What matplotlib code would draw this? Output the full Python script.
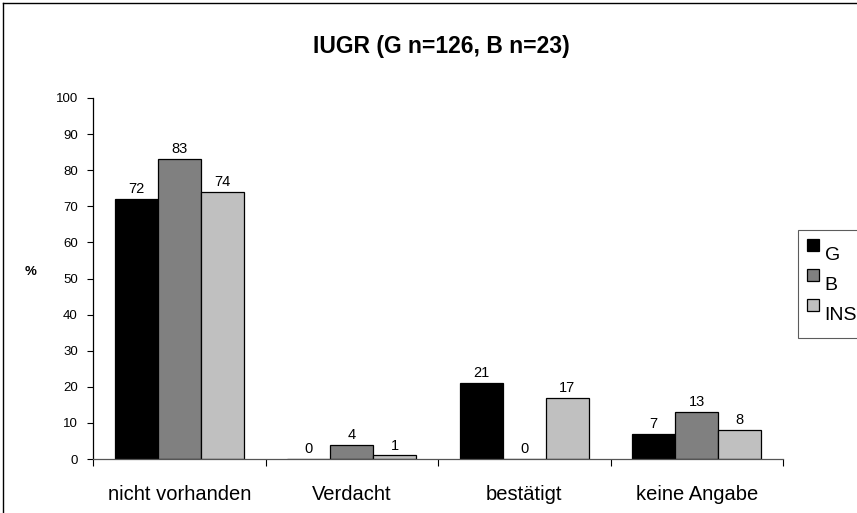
import matplotlib
matplotlib.use("Agg")
import matplotlib.pyplot as plt
from matplotlib.lines import Line2D
from matplotlib.patches import Rectangle
from matplotlib.legend_handler import HandlerPatch, update_from_first_child
from matplotlib.container import BarContainer
import numpy as np

plt.rcParams['font.family'] = ['Liberation Sans', 'DejaVu Sans']

categories = ["nicht vorhanden", "Verdacht", "bestätigt", "keine Angabe"]
series_names = ["G", "B", "INS"]
values_G = [72, 0, 21, 7]
values_B = [83, 4, 0, 13]
values_INS = [74, 1, 17, 8]
colors = ["#000000", "#808080", "#C0C0C0"]
title = "IUGR (G n=126, B n=23)"

fig = plt.figure(figsize=(8.57, 5.13), dpi=100)
ax = fig.add_axes([93/857, 1-459/513, (783-93)/857, (459-98)/513])

x = np.arange(len(categories))
w = 0.25
for i, (vals, name, c) in enumerate(zip([values_G, values_B, values_INS], series_names, colors)):
    pos = x + (i - 1) * w
    ax.bar(pos, vals, width=w, color=c, edgecolor="black", linewidth=0.9, label=name)
    for p, v in zip(pos, vals):
        ax.text(p, v + 0.8, str(v), ha="center", va="bottom", fontsize=10.5)

ax.set_xlim(-0.5, len(categories) - 0.5)
ax.set_ylim(0, 100)
ax.set_yticks(range(0, 101, 10))
ax.tick_params(axis='y', labelsize=9.5, length=4, direction='out', pad=7)
ax.set_xticks(np.arange(-0.5, len(categories), 1))
ax.set_xticklabels([])
ax.set_xticks(x, minor=True)
ax.set_xticklabels(categories, minor=True, fontsize=14.5)
ax.tick_params(axis='x', which='major', length=5, direction='out')
ax.tick_params(axis='x', which='minor', length=0, pad=19)
for s in ["top", "right"]:
    ax.spines[s].set_visible(False)
ax.spines["left"].set_color("#000000")
ax.spines["bottom"].set_color("#555555")
ax.spines["left"].set_linewidth(0.9)
ax.spines["bottom"].set_linewidth(0.9)

fig.text(31/857, 1-272/513, "%", fontsize=9.5, fontweight="bold", ha="center", va="center")
fig.text(441/857, 1-46/513, title, fontsize=16.5, fontweight="bold", ha="center", va="center")


def make_square(legend, orig_handle, xdescent, ydescent, width, height, fontsize):
    return Rectangle((-xdescent, -ydescent + height - width), width, width)


leg = ax.legend(loc="upper left", bbox_to_anchor=(798/857, 1-230/513), bbox_transform=fig.transFigure,
                fontsize=14, frameon=True, fancybox=False, handlelength=0.62, handleheight=2.0,
                handletextpad=0.3, labelspacing=0.0, borderpad=0.45, borderaxespad=0,
                handler_map={BarContainer: HandlerPatch(patch_func=make_square,
                                                        update_func=update_from_first_child)})
leg.get_frame().set_edgecolor("#333333")
leg.get_frame().set_linewidth(0.8)

fig.add_artist(Line2D([3/857, 3/857], [0, 1-3/513], transform=fig.transFigure, color="black", linewidth=1))
fig.add_artist(Line2D([3/857, 1], [1-3/513, 1-3/513], transform=fig.transFigure, color="black", linewidth=1))

fig.savefig("out.png", dpi=100)
